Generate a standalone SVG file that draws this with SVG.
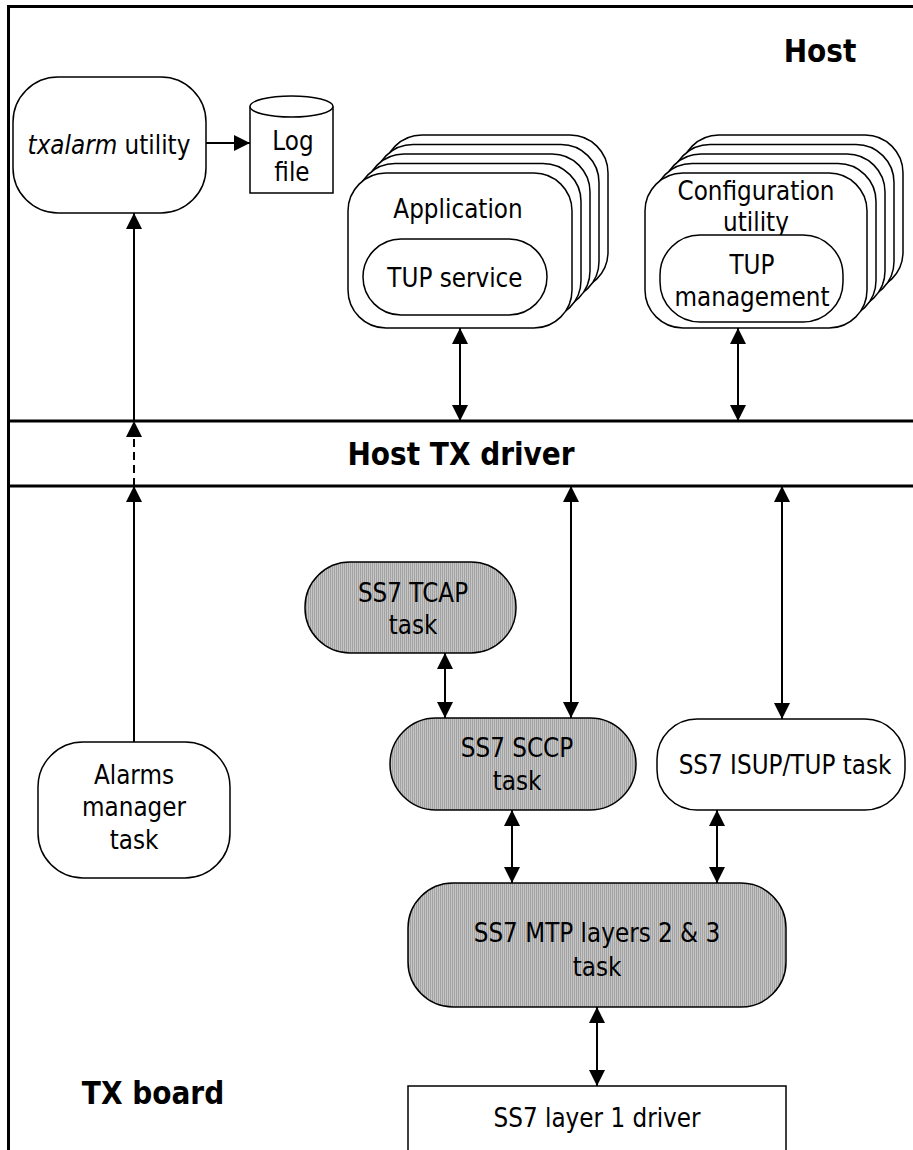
<svg xmlns="http://www.w3.org/2000/svg" width="913" height="1150" viewBox="0 0 913 1150">
<style>
  .t { font-family: "DejaVu Sans", Verdana, sans-serif; font-size: 26px; fill: #000; text-anchor: middle; transform-box: fill-box; transform-origin: center; transform: scaleX(0.89); }
  .b { font-family: "DejaVu Sans", Verdana, sans-serif; font-size: 32px; font-weight: bold; fill: #000; text-anchor: middle; transform-box: fill-box; transform-origin: center; transform: scaleX(0.875); }
  .box { fill: #fff; stroke: #000; stroke-width: 1.5; }
  .gray { fill: url(#hatch); stroke: #000; stroke-width: 1.5; }
  .frame { stroke: #000; stroke-width: 3; fill: none; }
  .con { stroke: #000; stroke-width: 2; fill: none; }
</style>
<defs>
  <pattern id="hatch" width="2" height="4" patternUnits="userSpaceOnUse">
    <rect width="2" height="4" fill="#c6c6c6"/>
    <rect width="1" height="4" fill="#a2a2a2"/>
  </pattern>
  <marker id="ah" markerUnits="userSpaceOnUse" markerWidth="17" markerHeight="17" viewBox="0 0 17 17" refX="16" refY="8.5" orient="auto-start-reverse">
    <path d="M0,0.5 L16,8.5 L0,16.5 z" fill="#000"/>
  </marker>
</defs>
<rect width="913" height="1150" fill="#fff"/>

<g id="frame">
  <line class="frame" x1="7" y1="6.5" x2="913" y2="6.5"/>
  <line class="frame" x1="8.5" y1="5" x2="8.5" y2="1150"/>
  <line class="frame" x1="7" y1="421" x2="913" y2="421"/>
  <line class="frame" x1="7" y1="486" x2="913" y2="486"/>
</g>

<g id="host-label"><text class="b" x="820" y="62">Host</text></g>
<g id="host-tx-driver"><text class="b" x="461" y="465">Host TX driver</text></g>
<g id="tx-board-label"><text class="b" x="153" y="1104">TX board</text></g>

<g id="txalarm">
  <rect class="box" x="13" y="77" width="193" height="136" rx="45" ry="45"/>
  <text class="t" x="109" y="154"><tspan font-style="italic">txalarm</tspan> utility</text>
</g>

<g id="logfile">
  <path class="box" d="M250,106.5 L250,193 L333,193 L333,106.5"/>
  <ellipse class="box" cx="291.5" cy="106.5" rx="41.5" ry="10.5"/>
  <text class="t" x="293" y="150">Log</text>
  <text class="t" x="292" y="181">file</text>
</g>

<g id="application">
  <rect class="box" x="384" y="135" width="224" height="155" rx="38"/>
  <rect class="box" x="375" y="144.5" width="224" height="155" rx="38"/>
  <rect class="box" x="366" y="154" width="224" height="155" rx="38"/>
  <rect class="box" x="357" y="163.5" width="224" height="155" rx="38"/>
  <rect class="box" x="348" y="173" width="224" height="155" rx="38"/>
  <text class="t" x="458" y="218">Application</text>
  <rect class="box" x="363" y="239" width="184" height="76" rx="38"/>
  <text class="t" x="455" y="287">TUP service</text>
</g>

<g id="configuration">
  <rect class="box" x="681" y="135" width="222" height="155" rx="38"/>
  <rect class="box" x="672" y="144.5" width="222" height="155" rx="38"/>
  <rect class="box" x="663" y="154" width="222" height="155" rx="38"/>
  <rect class="box" x="654" y="163.5" width="222" height="155" rx="38"/>
  <rect class="box" x="645" y="173" width="222" height="155" rx="38"/>
  <text class="t" x="756" y="200">Configuration</text>
  <text class="t" x="756" y="231">utility</text>
  <rect class="box" x="660" y="235" width="183" height="87" rx="40"/>
  <text class="t" x="752" y="274">TUP</text>
  <text class="t" x="752" y="306">management</text>
</g>

<g id="tcap">
  <rect class="gray" x="305" y="562" width="211" height="91" rx="45"/>
  <text class="t" x="413" y="602">SS7 TCAP</text>
  <text class="t" x="413" y="634">task</text>
</g>

<g id="sccp">
  <rect class="gray" x="390" y="718" width="246" height="92" rx="46"/>
  <text class="t" x="517" y="757">SS7 SCCP</text>
  <text class="t" x="517" y="790">task</text>
</g>

<g id="isup">
  <rect class="box" x="657" y="719" width="248" height="91" rx="40"/>
  <text class="t" x="785" y="774">SS7 ISUP/TUP task</text>
</g>

<g id="alarms">
  <rect class="box" x="38" y="742" width="192" height="136" rx="45"/>
  <text class="t" x="134" y="784">Alarms</text>
  <text class="t" x="134" y="816">manager</text>
  <text class="t" x="134" y="849">task</text>
</g>

<g id="mtp">
  <rect class="gray" x="408" y="883" width="378" height="124" rx="45"/>
  <text class="t" x="597" y="942">SS7 MTP layers 2 &amp; 3</text>
  <text class="t" x="597" y="976">task</text>
</g>

<g id="layer1">
  <rect class="box" x="408" y="1086" width="378" height="80"/>
  <text class="t" x="597" y="1127">SS7 layer 1 driver</text>
</g>

<g id="connectors">
  <line class="con" x1="206" y1="143" x2="250" y2="143" marker-end="url(#ah)"/>
  <line class="con" x1="134" y1="742" x2="134" y2="486" marker-end="url(#ah)"/>
  <line class="con" x1="134" y1="486" x2="134" y2="421" stroke-dasharray="8,5" marker-end="url(#ah)"/>
  <line class="con" x1="134" y1="421" x2="134" y2="213" marker-end="url(#ah)"/>
  <line class="con" x1="460" y1="328" x2="460" y2="421" marker-start="url(#ah)" marker-end="url(#ah)"/>
  <line class="con" x1="738" y1="328" x2="738" y2="421" marker-start="url(#ah)" marker-end="url(#ah)"/>
  <line class="con" x1="571" y1="486" x2="571" y2="718" marker-start="url(#ah)" marker-end="url(#ah)"/>
  <line class="con" x1="782" y1="486" x2="782" y2="719" marker-start="url(#ah)" marker-end="url(#ah)"/>
  <line class="con" x1="445" y1="653" x2="445" y2="718" marker-start="url(#ah)" marker-end="url(#ah)"/>
  <line class="con" x1="512" y1="810" x2="512" y2="883" marker-start="url(#ah)" marker-end="url(#ah)"/>
  <line class="con" x1="717" y1="810" x2="717" y2="883" marker-start="url(#ah)" marker-end="url(#ah)"/>
  <line class="con" x1="597" y1="1007" x2="597" y2="1086" marker-start="url(#ah)" marker-end="url(#ah)"/>
</g>
</svg>
